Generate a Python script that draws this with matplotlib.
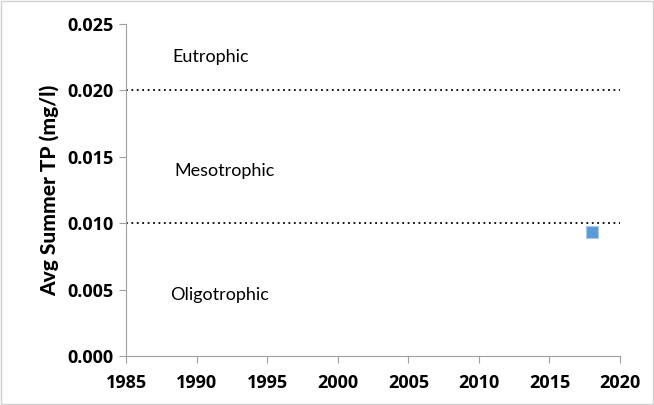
import matplotlib
matplotlib.use("Agg")
import matplotlib.pyplot as plt
from matplotlib.patches import Rectangle

years = [2018]
tp = [0.0093]
thresholds = [0.010, 0.020]
zone_labels = ["Oligotrophic", "Mesotrophic", "Eutrophic"]
zone_x = [1991.6, 1992.0, 1991.0]
zone_y = [0.0046, 0.0139, 0.0225]
xticks = [1985, 1990, 1995, 2000, 2005, 2010, 2015, 2020]
yticks = [0.000, 0.005, 0.010, 0.015, 0.020, 0.025]

plt.rcParams['font.family'] = ['Lato', 'DejaVu Sans']
fig = plt.figure(figsize=(6.54, 4.05), dpi=100)
ax = fig.add_axes([0.193, 0.121, 0.755, 0.820])
fig.patches.append(Rectangle((0.002, 0.002), 0.996, 0.996, transform=fig.transFigure,
                             fill=False, edgecolor='#d0d0d0', linewidth=1))

for t in thresholds:
    ax.plot([1985, 2020], [t, t], color='black', linestyle=(0, (1, 2)), linewidth=1.3)

ax.scatter(years, tp, marker='s', s=85, color='#5b9bd5', edgecolor='#a9c8ea', linewidth=0.8, zorder=3)

for lab, x, y in zip(zone_labels, zone_x, zone_y):
    ax.text(x, y, lab, ha='center', va='center', fontsize=13)

ax.set_xlim(1985, 2020)
ax.set_ylim(0, 0.025)
ax.tick_params(direction='out', length=5, color='#a0a0a0')
ax.tick_params(axis='x', pad=8)
ax.tick_params(axis='y', pad=4)
tick_font = dict(family=['Open Sans', 'DejaVu Sans'], size=13, weight='bold')
ax.set_xticks(xticks, [str(x) for x in xticks], fontdict=tick_font, color='black')
ax.set_yticks(yticks, [f"{y:.3f}" for y in yticks], fontdict=tick_font, color='black')
ax.set_ylabel("Avg Summer TP (mg/l)", fontsize=15, fontweight='black', labelpad=6)
for s in ['top', 'right']:
    ax.spines[s].set_visible(False)
for s in ['left', 'bottom']:
    ax.spines[s].set_color('#a0a0a0')

fig.savefig("out.png", dpi=100)
